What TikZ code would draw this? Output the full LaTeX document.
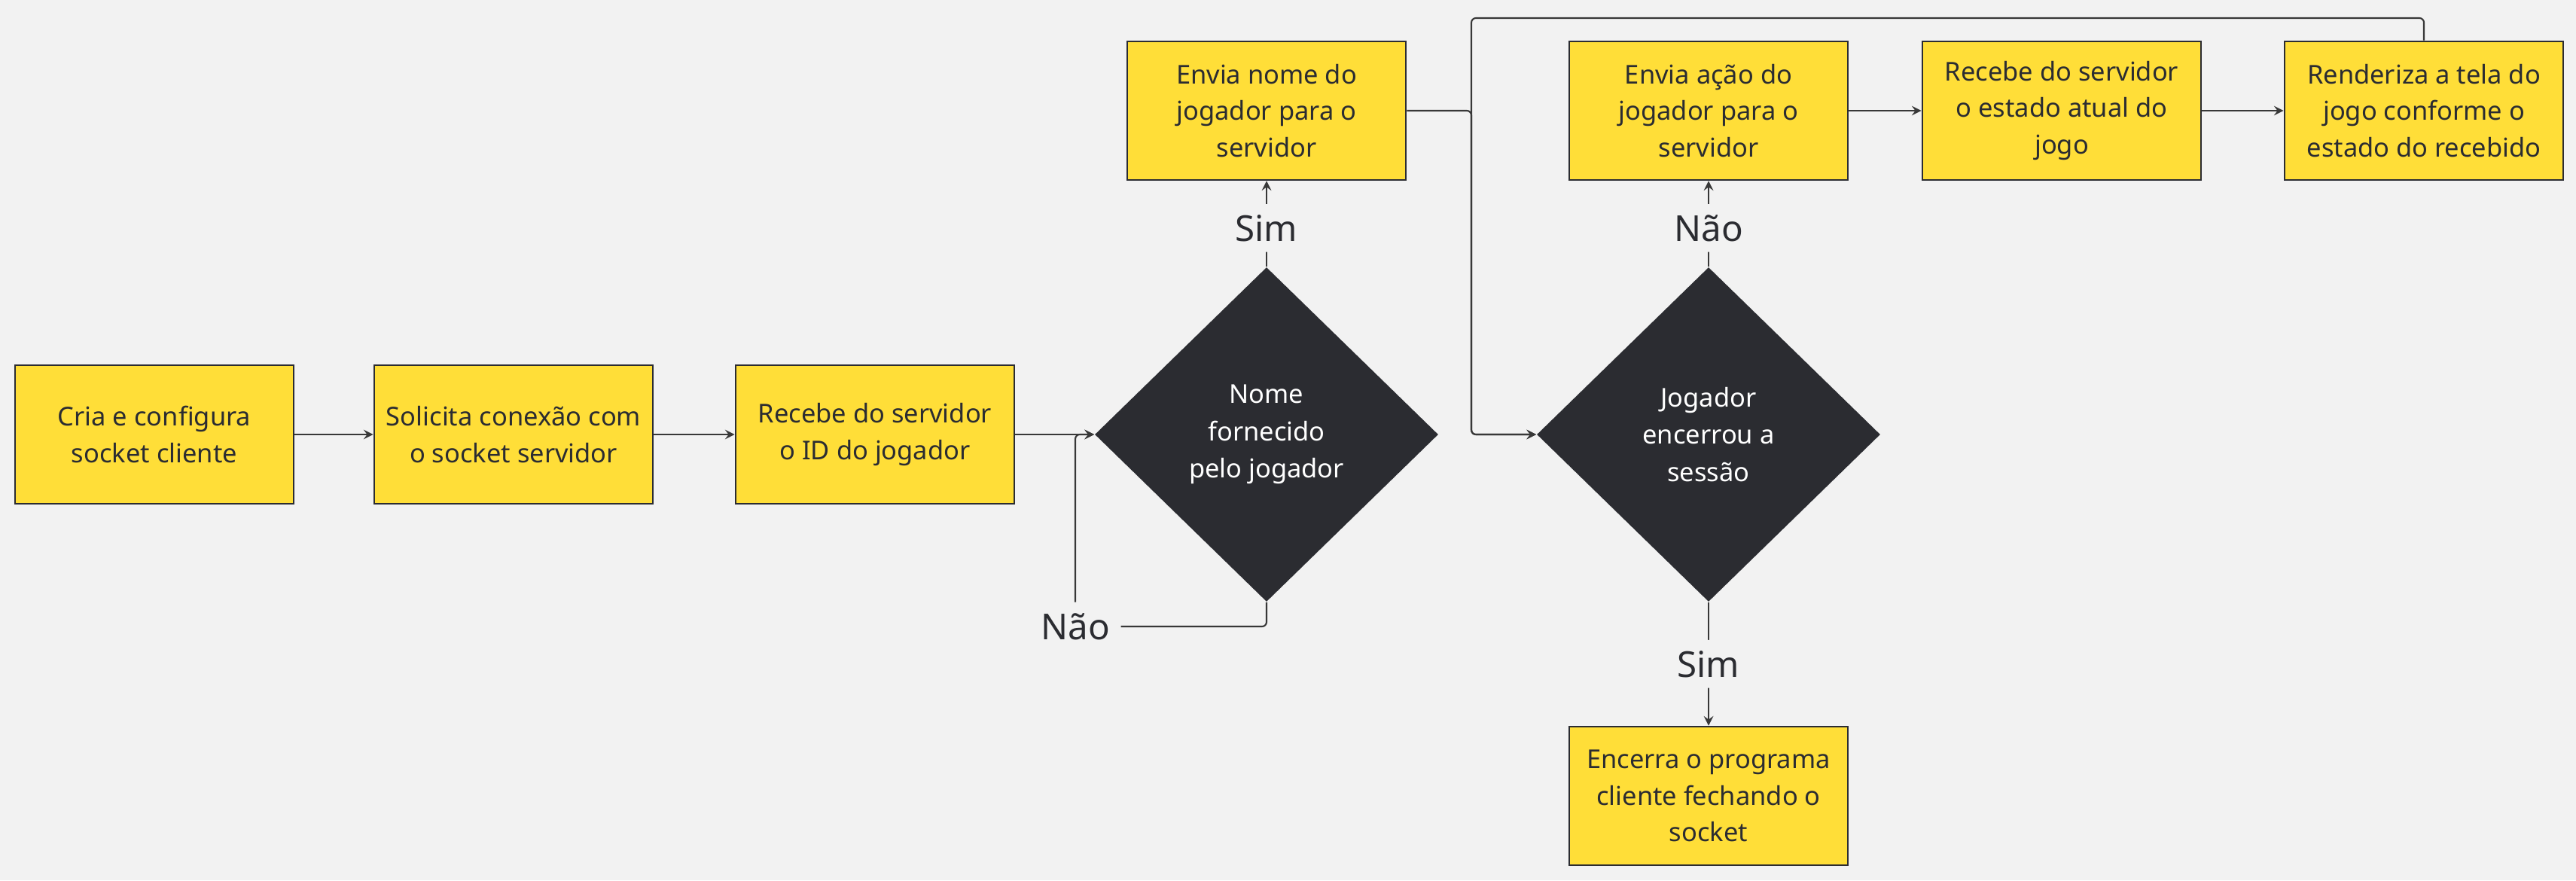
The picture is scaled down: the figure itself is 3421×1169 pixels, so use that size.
\documentclass[tikz,border=0pt]{standalone}
\usepackage{fontspec}
\setmainfont{Noto Sans}
\usepackage{xcolor}
\usetikzlibrary{shapes.geometric}
\definecolor{fundo}{HTML}{F2F2F2}
\definecolor{amarelo}{HTML}{FFDE38}
\definecolor{escuro}{HTML}{2B2C31}
\definecolor{linha}{HTML}{383838}

\begin{document}
\begin{tikzpicture}[x=0.01cm,y=-0.01cm,
	caixa/.style={draw=escuro,line width=0.7pt,fill=amarelo,text=escuro,minimum width=3.7cm,minimum height=1.84cm,inner sep=0pt,align=center,font=\fontsize{9.8}{13.8}\selectfont},
	decisao/.style={diamond,fill=escuro,text=white,minimum width=4.56cm,minimum height=4.44cm,inner sep=0pt,align=center,font=\fontsize{9.8}{14}\selectfont},
	rotulo/.style={fill=fundo,text=escuro,inner sep=4pt,font=\fontsize{13.5}{16}\selectfont},
	seta/.style={-stealth,draw=linha,line width=0.6pt,rounded corners=0.06cm}]
	\fill[fundo](0,0)rectangle(3421,1169);
	\useasboundingbox(0,0)rectangle(3421,1169);
	% linha de baixo
	\node[caixa](cria) at(205,577){Cria e configura\\socket cliente};
	\node[caixa](solicita) at(682,577){Solicita conexão com\\o socket servidor};
	\node[caixa](recebeid) at(1162,577){Recebe do servidor\\o ID do jogador};
	\node[decisao](nome) at(1682,577){Nome\\fornecido\\pelo jogador};
	\node[decisao](sessao) at(2269,577){Jogador\\encerrou a\\sessão};
	% linha de cima
	\node[caixa](envianome) at(1682,147){Envia nome do\\jogador para o\\servidor};
	\node[caixa](enviaacao) at(2269,147){Envia ação do\\jogador para o\\servidor};
	\node[caixa](recebeest) at(2738,147){Recebe do servidor\\o estado atual do\\jogo};
	\node[caixa](renderiza) at(3219,147){Renderiza a tela do\\jogo conforme o\\estado do recebido};
	\node[caixa](encerra) at(2269,1057){Encerra o programa\\cliente fechando o\\socket};
	\node[rotulo](nao1) at(1428,832){Não};
	\coordinate(topo) at(1954,24);
	\coordinate(juncao) at(1954,577);
	% conectores
	\draw[seta](cria)--(solicita);
	\draw[seta](solicita)--(recebeid);
	\draw[seta](recebeid)--(nome);
	\draw[seta](nome.north)--node[rotulo,pos=0.45]{Sim}(envianome.south);
	\draw[seta](nome.south)|-(nao1)|-(nome.west);
	\draw[seta](envianome.east)-|(juncao)--(sessao.west);
	\draw[seta](renderiza.north)|-(topo)|-(sessao.west);
	\draw[seta](sessao.north)--node[rotulo,pos=0.45]{Não}(enviaacao.south);
	\draw[seta](enviaacao)--(recebeest);
	\draw[seta](recebeest)--(renderiza);
	\draw[seta](sessao.south)--node[rotulo]{Sim}(encerra.north);
\end{tikzpicture}
\end{document}
